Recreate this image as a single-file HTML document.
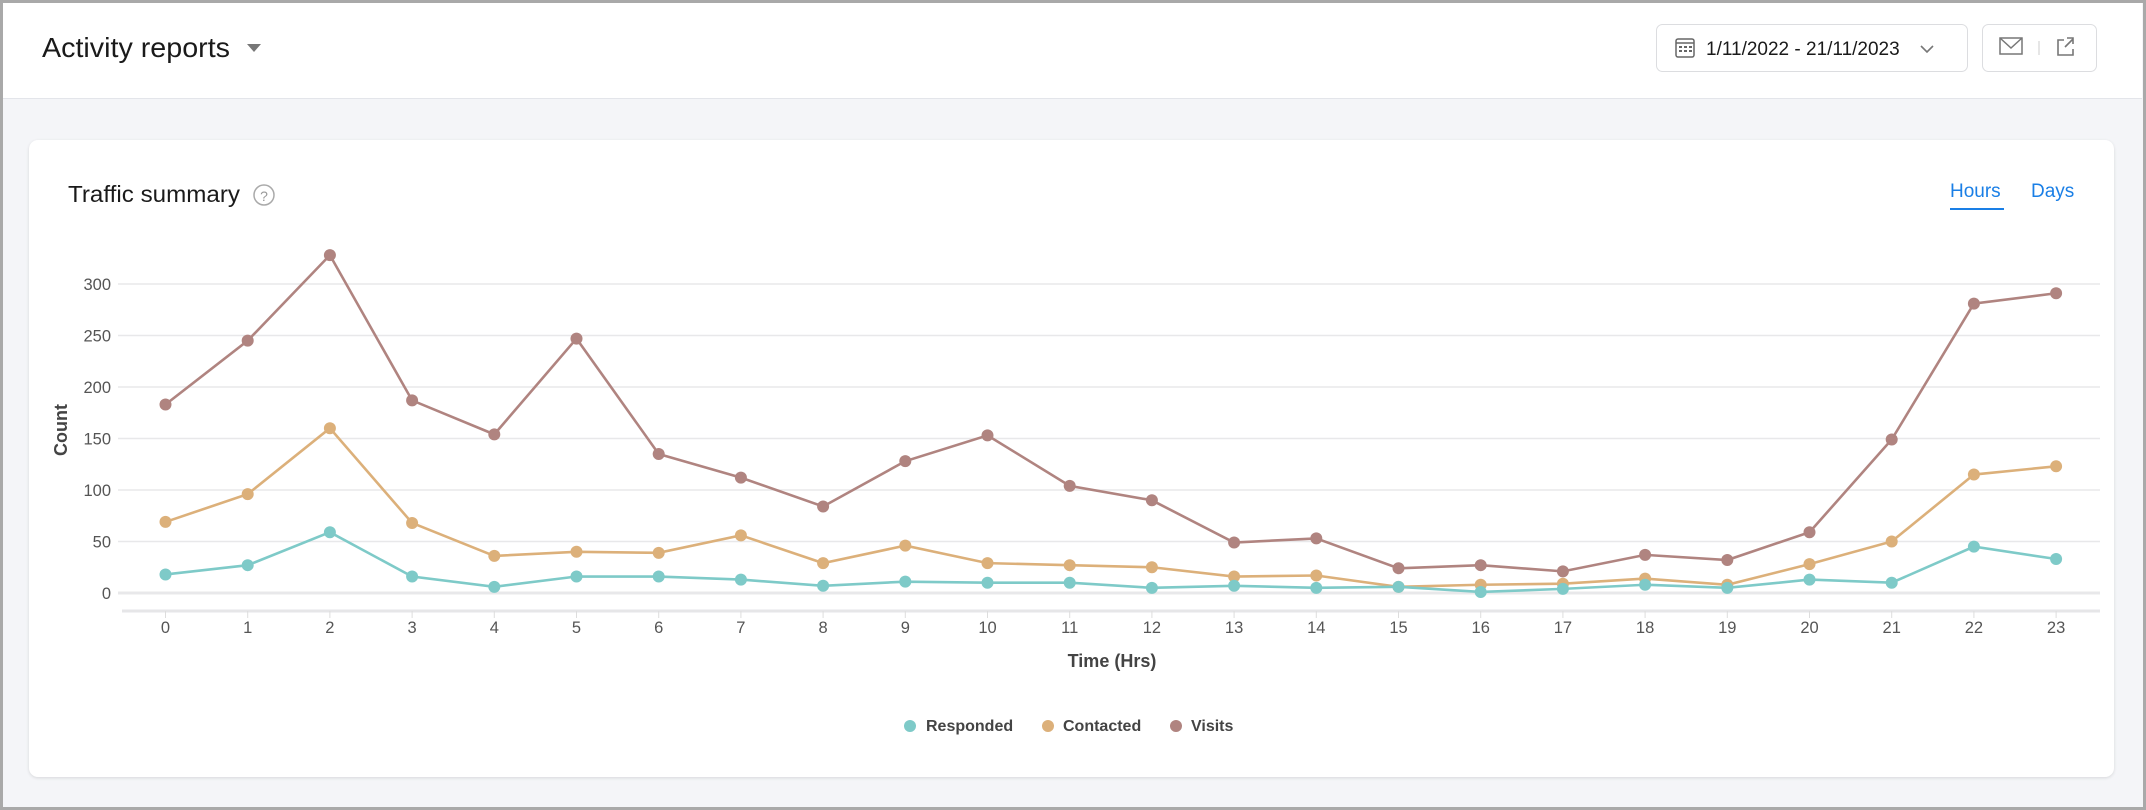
<!DOCTYPE html>
<html><head><meta charset="utf-8"><style>
html,body{margin:0;padding:0}
body{width:2146px;height:810px;position:relative;overflow:hidden;background:#f4f5f8;font-family:"Liberation Sans",sans-serif}
.frame{position:absolute;left:0;top:0;width:2140px;height:804px;border:3px solid #a9a9a9;border-right-width:4px}
.header{position:absolute;left:3px;top:3px;width:2139px;height:95px;background:#fff;border-bottom:1px solid #e3e5ea}
.card{position:absolute;left:29px;top:140px;width:2085px;height:637px;background:#fff;border-radius:9px;box-shadow:0 1px 3px rgba(0,0,0,.12)}
</style></head><body>
<div class="header"></div>
<div class="card"></div>
<div class="frame"></div>
<svg id="s" width="2146" height="810" style="position:absolute;left:0;top:0" xmlns="http://www.w3.org/2000/svg" font-family="Liberation Sans, sans-serif">
<text x="42" y="57" font-size="28" fill="#1a1a1a" textLength="188" lengthAdjust="spacingAndGlyphs">Activity reports</text>
<polygon points="247,44 261,44 254,52" fill="#777"/>
<rect x="1656.5" y="24.5" width="311" height="47" rx="6" fill="#fff" stroke="#dcdde0"/>
<rect x="1676" y="39" width="18" height="18" rx="2" fill="none" stroke="#666" stroke-width="1.5"/>
<line x1="1676" y1="43" x2="1694" y2="43" stroke="#666" stroke-width="1.5"/>
<g fill="#666"><rect x="1679" y="46" width="3" height="2"/><rect x="1684" y="46" width="3" height="2"/><rect x="1689" y="46" width="3" height="2"/><rect x="1679" y="50" width="3" height="2"/><rect x="1684" y="50" width="3" height="2"/><rect x="1689" y="50" width="3" height="2"/></g>
<text x="1706" y="55" font-size="19" fill="#1a1a1a">1/11/2022 - 21/11/2023</text>
<polyline points="1921,46 1927,52 1933,46" fill="none" stroke="#777" stroke-width="1.6"/>
<rect x="1982.5" y="24.5" width="114" height="47" rx="6" fill="#fff" stroke="#dcdde0"/>
<rect x="2000" y="38" width="22" height="16" fill="none" stroke="#777" stroke-width="1.5"/>
<polyline points="2000,38 2011,48 2022,38" fill="none" stroke="#777" stroke-width="1.5"/>
<line x1="2039" y1="41" x2="2039" y2="55" stroke="#ccc"/>
<path d="M2064 40 h-6 v15 h15 v-6" fill="none" stroke="#777" stroke-width="1.6"/>
<path d="M2065 47 l8 -8 M2067 38 h6 v6" fill="none" stroke="#777" stroke-width="1.6"/>
<text x="68" y="202" font-size="23" fill="#1a1a1a" textLength="172" lengthAdjust="spacingAndGlyphs">Traffic summary</text>
<circle cx="264" cy="195" r="10" fill="none" stroke="#aaa" stroke-width="1.5"/>
<text x="264" y="201" font-size="14" fill="#999" text-anchor="middle">?</text>
<text x="1950" y="197" font-size="19" fill="#1a7fe6">Hours</text>
<line x1="1950" y1="209" x2="2004" y2="209" stroke="#1a7fe6" stroke-width="2"/>
<text x="2031" y="197" font-size="19" fill="#1a7fe6">Days</text>
<g id="chart"></g>
<text x="1112" y="667" font-size="18" font-weight="bold" fill="#444" text-anchor="middle">Time (Hrs)</text>
<text transform="translate(67,430) rotate(-90)" font-size="18" font-weight="bold" fill="#444" text-anchor="middle">Count</text>
<circle cx="910" cy="726" r="6" fill="#7ecac8"/><text x="926" y="731" font-size="16" font-weight="bold" fill="#444">Responded</text>
<circle cx="1048" cy="726" r="6" fill="#dcb07a"/><text x="1063" y="731" font-size="16" font-weight="bold" fill="#444">Contacted</text>
<circle cx="1176" cy="726" r="6" fill="#b08480"/><text x="1191" y="731" font-size="16" font-weight="bold" fill="#444">Visits</text>
</svg>
<script>
var g=document.getElementById('chart'),h='';
function Y(v){return 593-v*(309/300);}
function X(i){return 165.5+i*82.2;}
for(var k=0;k<=6;k++){var y=Y(k*50);h+='<line x1="118" x2="2100" y1="'+y+'" y2="'+y+'" stroke="#e8e8ea" stroke-width="'+(k==0?3:1.5)+'"/>';h+='<text x="111" y="'+(y+6)+'" font-size="16.5" fill="#555" text-anchor="end">'+(k*50)+'</text>';}
h+='<line x1="122" x2="2100" y1="611" y2="611" stroke="#e6e6e8" stroke-width="3"/>';
for(var i=0;i<24;i++){var x=X(i);h+='<line x1="'+x+'" x2="'+x+'" y1="611" y2="618" stroke="#ddd"/>';h+='<text x="'+x+'" y="633" font-size="16.5" fill="#555" text-anchor="middle">'+i+'</text>';}
var S=[
['#b08480',[183,245,328,187,154,247,135,112,84,128,153,104,90,49,53,24,27,21,37,32,59,149,281,291]],
['#dcb07a',[69,96,160,68,36,40,39,56,29,46,29,27,25,16,17,6,8,9,14,8,28,50,115,123]],
['#7ecac8',[18,27,59,16,6,16,16,13,7,11,10,10,5,7,5,6,1,4,8,5,13,10,45,33]]];
S.forEach(function(s){var p=s[1].map(function(v,i){return X(i)+','+Y(v)}).join(' ');
h+='<polyline points="'+p+'" fill="none" stroke="'+s[0]+'" stroke-width="2.6"/>';
s[1].forEach(function(v,i){h+='<circle cx="'+X(i)+'" cy="'+Y(v)+'" r="6" fill="'+s[0]+'"/>';});});
g.innerHTML=h;
</script>
</body></html>
